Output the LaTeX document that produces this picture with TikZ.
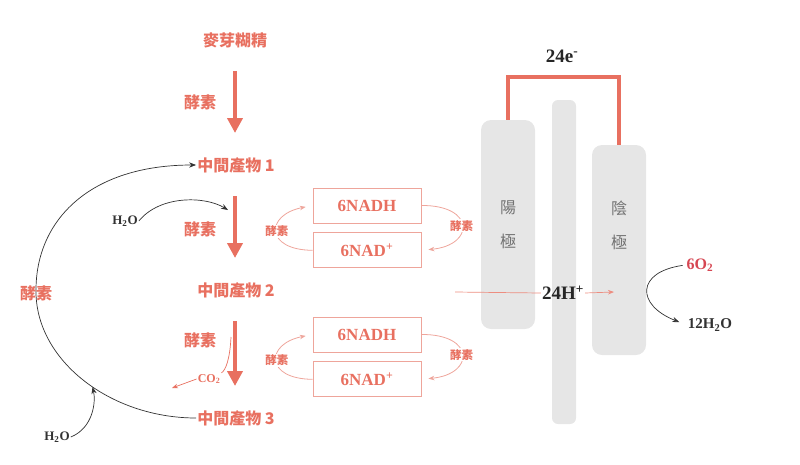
\documentclass[tikz,border=0pt]{standalone}
\usepackage{fontspec}
\setmainfont{Liberation Serif}
\newfontfamily\cjk{Noto Sans CJK TC}
\usepackage{xcolor}
\usetikzlibrary{arrows.meta,positioning}
\definecolor{coral}{RGB}{232,112,96}
\definecolor{palecoral}{RGB}{238,165,155}
\definecolor{platefill}{RGB}{230,230,230}
\definecolor{oxred}{RGB}{214,70,82}
\definecolor{inkgray}{RGB}{50,50,50}

\begin{document}
\begin{tikzpicture}[
  x=1pt,y=-1pt,
  chem/.style={font=\cjk\bfseries\fontsize{16}{16}\selectfont,text=coral,inner sep=1pt},
  enz/.style={font=\cjk\bfseries\fontsize{11.5}{11.5}\selectfont,text=coral,fill=white,inner sep=1pt},
  nadbox/.style={draw=palecoral,line width=0.8pt,minimum width=108pt,minimum height=35pt,inner sep=1pt,font=\bfseries\fontsize{17}{17}\selectfont,text=coral},
  formula/.style={font=\bfseries\fontsize{14}{14}\selectfont,text=inkgray,inner sep=1pt},
  bigformula/.style={font=\bfseries\fontsize{19}{19}\selectfont,text=black!85,inner sep=1pt},
  platebox/.style={fill=platefill,rounded corners=10pt,inner sep=0pt},
  platetext/.style={font=\cjk\fontsize{16}{34}\selectfont,text=black!55,align=center},
  bigarrow/.style={draw=coral,line width=4.5pt,shorten <=22pt,shorten >=23pt,-{Triangle[length=15pt,width=15pt]}},
  cyc/.style={draw=palecoral,line width=0.8pt,shorten >=7pt,-{Stealth[length=6pt]}},
  thinarrow/.style={draw=inkgray,line width=0.7pt,-{Stealth[length=7pt]}},
  wire/.style={draw=coral,line width=4.5pt}
]
\useasboundingbox (0,0) rectangle (800,464);

% main chain
\node[chem] (malto) at (235,40) {麥芽糊精};
\node[chem] (mid1) at (236,165) {中間產物 1};
\node[chem] (mid2) at (236,290) {中間產物 2};
\node[chem] (mid3) at (236,418) {中間產物 3};
\draw[bigarrow] (malto.south -| 235,0) -- (mid1.north -| 235,0);
\draw[bigarrow] (mid1.south -| 235,0) -- (mid2.north -| 235,0);
\draw[bigarrow] (mid2.south -| 235,0) -- (mid3.north -| 235,0);
\node[chem] (enz1) at (200,102) {酵素};
\node[chem] (enz2) at (200,229) {酵素};
\node[chem] (enz3) at (200,340) {酵素};

% water in, CO2 out
\node[formula,font=\bfseries\fontsize{13}{13}\selectfont] (wtop) at (125,221) {H\textsubscript{2}O};
\coordinate (wtopin) at (228,210);
\draw[thinarrow] (wtop.east) .. controls (160,195) and (205,196) .. (wtopin);
\node[formula,text=coral,font=\bfseries\fontsize{12}{12}\selectfont] (co2) at (209,379) {CO\textsubscript{2}};
\coordinate (co2src) at (231,337);
\coordinate (co2out) at (172,388);
\draw[coral,line width=0.7pt] (co2src) .. controls (230,358) and (226,370) .. (co2.north east);
\draw[coral,line width=0.7pt,-{Stealth[length=6pt]}] (co2.west) -- (co2out);

% loop back
\draw[thinarrow] (mid3.west) .. controls (110,418) and (35,360) .. coordinate[pos=0.45] (loophit) (36,290)
  .. controls (36,220) and (90,165) .. (mid1.west);
\node[chem] (enzloop) at (36,293) {酵素};
\node[formula,font=\bfseries\fontsize{13}{13}\selectfont] (wbot) at (57,437) {H\textsubscript{2}O};
\draw[thinarrow] (wbot.east) .. controls (93,428) and (96,402) .. (loophit);

% NAD cycles
\node[nadbox] (nadh1) at (367,205.5) {6NADH};
\node[nadbox,below=9pt of nadh1] (nad1) {6NAD\textsuperscript{+}};
\node[nadbox] (nadh2) at (367,334.5) {6NADH};
\node[nadbox,below=9pt of nadh2] (nad2) {6NAD\textsuperscript{+}};
\draw[cyc] (nad1.west) .. controls (265,250) and (265,215) .. node[enz,pos=0.5] (enzL1) {酵素} (nadh1.west);
\draw[cyc] (nadh1.east) .. controls (475,205) and (475,245) .. node[enz,pos=0.5] (enzR1) {酵素} (nad1.east);
\draw[cyc] (nad2.west) .. controls (265,379) and (265,344) .. node[enz,pos=0.5] (enzL2) {酵素} (nadh2.west);
\draw[cyc] (nadh2.east) .. controls (475,334) and (475,374) .. node[enz,pos=0.5] (enzR2) {酵素} (nad2.east);

% fuel cell
\node[platebox,minimum width=54pt,minimum height=209pt] (anode) at (508,224.5) {};
\node[platebox,rounded corners=6pt,minimum width=24pt,minimum height=324pt] (membrane) at (564,262) {};
\node[platebox,minimum width=54pt,minimum height=210pt] (cathode) at (619,250) {};
\node[platetext] (anodetxt) at (508,225) {陽\\極};
\node[platetext] (cathodetxt) at (619,225) {陰\\極};
\draw[wire] (anode.north) -- ++(0,-43) -| (cathode.north);
\node[bigformula] (elec) at (562,56) {24e\textsuperscript{-}};
\node[bigformula] (proton) at (563,293) {24H\textsuperscript{+}};
\coordinate (hstart) at (455,292);
\coordinate (hend) at (614,292);
\draw[coral!80,line width=0.7pt] (hstart) -- (proton.west);
\draw[coral!80,line width=0.7pt,-{Stealth[length=6pt]}] (proton.east) -- (hend);

% oxygen reduction
\node[formula,text=oxred,font=\bfseries\fontsize{16}{16}\selectfont] (oxy) at (700,265) {6O\textsubscript{2}};
\node[formula,font=\bfseries\fontsize{15}{15}\selectfont] (water) at (710,325) {12H\textsubscript{2}O};
\draw[thinarrow,shorten <=3pt,shorten >=8pt] (oxy.west) .. controls (636,272) and (636,305) .. (water.west);
\end{tikzpicture}
\end{document}
